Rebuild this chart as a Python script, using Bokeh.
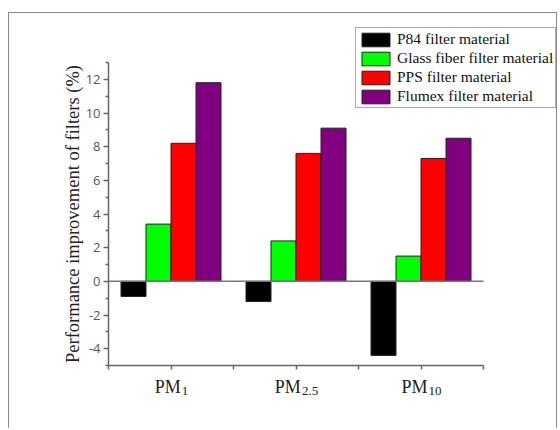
from bokeh.plotting import figure
from bokeh.models import Range1d, FixedTicker, Label, Legend, LegendItem, LinearAxis
from bokeh.embed import file_html
from bokeh.resources import INLINE

# ---- data ----
categories = ["PM1", "PM2.5", "PM10"]
cat_base = ["PM", "PM", "PM"]
cat_sub = ["1", "2.5", "10"]
series_names = ["P84 filter material", "Glass fiber filter material",
                "PPS filter material", "Flumex filter material"]
p84 = [-0.9, -1.2, -4.4]
glass = [3.4, 2.4, 1.5]
pps = [8.2, 7.6, 7.3]
flumex = [11.8, 9.1, 8.5]
colors = ["#000000", "#00FF00", "#FF0000", "#800080"]
y_major = [-4, -2, 0, 2, 4, 6, 8, 10, 12]
y_minor = [-5, -3, -1, 1, 3, 5, 7, 9, 11, 13]
y_lo, y_hi = -5, 13

series = [p84, glass, pps, flumex]
n_cat = len(categories)
bar_w = 0.2
offsets = [-0.3, -0.1, 0.1, 0.3]

# canvas/frame geometry (pixels)
W, H = 549, 416
ax_left_px, ax_bottom_px, ax_top_px, px_per_x = 99, 352, 49, 125.0
px_per_y = (ax_bottom_px - ax_top_px) / (y_hi - y_lo)
x_start = -ax_left_px / px_per_x
x_end = (W - ax_left_px) / px_per_x
y_end = y_hi + ax_top_px / px_per_y
y_start = y_lo - (H - ax_bottom_px) / px_per_y

p = figure(width=W, height=H, x_range=Range1d(x_start, x_end), y_range=Range1d(y_start, y_end),
           output_backend="svg", toolbar_location=None, x_axis_type=None, y_axis_type=None,
           min_border_left=0, min_border_right=0, min_border_top=0, min_border_bottom=0)
p.styles = {"margin-left": "8px", "margin-top": "12px", "border-left": "1px solid #8a8a8a",
            "border-top": "1px solid #8a8a8a", "border-right": "1px solid #8a8a8a"}
p.outline_line_color = None
p.xgrid.visible = False
p.ygrid.visible = False
p.background_fill_color = "white"
p.border_fill_color = "white"

items = []
for k, (vals, name, col) in enumerate(zip(series, series_names, colors)):
    xs = [i + 0.5 + offsets[k] for i in range(n_cat)]
    r = p.vbar(x=xs, top=vals, bottom=0, width=bar_w, fill_color=col,
               line_color="#222222", line_width=1)
    items.append(LegendItem(label=name, renderers=[r]))

# zero line
p.segment(x0=[0], y0=[0], x1=[n_cat], y1=[0], line_color="#777777", line_width=1.5)

axis_col = "#666666"
# x axis
xt = [i * 0.5 for i in range(2 * n_cat + 1)]
xa = LinearAxis(fixed_location=y_lo, bounds=(0, n_cat),
                ticker=FixedTicker(ticks=xt, minor_ticks=[]),
                major_label_overrides={t: "" for t in xt})
xa.axis_line_color = axis_col
xa.axis_line_width = 1.5
xa.major_tick_line_color = axis_col
xa.major_tick_line_width = 1.5
xa.major_tick_in = 0
xa.major_tick_out = 4
xa.minor_tick_line_color = None
p.add_layout(xa, "below")

# y axis
ya = LinearAxis(fixed_location=0, bounds=(y_lo, y_hi),
                ticker=FixedTicker(ticks=y_major, minor_ticks=y_minor),
                major_label_overrides={t: str(t) for t in y_major})
ya.axis_line_color = axis_col
ya.axis_line_width = 1.5
ya.major_tick_line_color = axis_col
ya.major_tick_line_width = 1.5
ya.major_tick_in = 0
ya.major_tick_out = 5
ya.minor_tick_line_color = axis_col
ya.minor_tick_line_width = 1.5
ya.minor_tick_in = 0
ya.minor_tick_out = 3
ya.major_label_text_font = "Open Sans"
ya.major_label_text_font_size = "13px"
ya.major_label_text_color = "#555555"
ya.major_label_standoff = 3
ya.axis_label = "Performance improvement of filters (%)"
ya.axis_label_text_font = "Liberation Serif"
ya.axis_label_text_font_size = "18.5px"
ya.axis_label_text_font_style = "normal"
ya.axis_label_text_color = "#222222"
ya.axis_label_standoff = 0
p.add_layout(ya, "left")

# category labels with subscripts
for i, (b, s) in enumerate(zip(cat_base, cat_sub)):
    subw = 13 * (0.5 * sum(c.isdigit() for c in s) + 0.25 * s.count("."))
    off = (26 - subw) / 2
    p.add_layout(Label(x=i + 0.5, y=y_lo, text=b, text_align="right", text_baseline="alphabetic",
                       x_offset=off, y_offset=-21, text_font="Liberation Serif",
                       text_font_size="18px", text_color="#222222"))
    p.add_layout(Label(x=i + 0.5, y=y_lo, text=s, text_align="left", text_baseline="alphabetic",
                       x_offset=off + 1, y_offset=-25, text_font="Liberation Serif",
                       text_font_size="13px", text_color="#222222"))

legend = Legend(items=items, location=(346, 321), margin=0, padding=2, spacing=1,
                glyph_width=35, glyph_height=17, label_height=17, label_standoff=4,
                label_text_font="Liberation Serif", label_text_font_size="15.5px",
                label_text_color="#111111", border_line_color="#555555",
                border_line_width=1, background_fill_color="white", background_fill_alpha=1)
p.add_layout(legend, "center")

open("out.html", "w").write(file_html(p, INLINE))
